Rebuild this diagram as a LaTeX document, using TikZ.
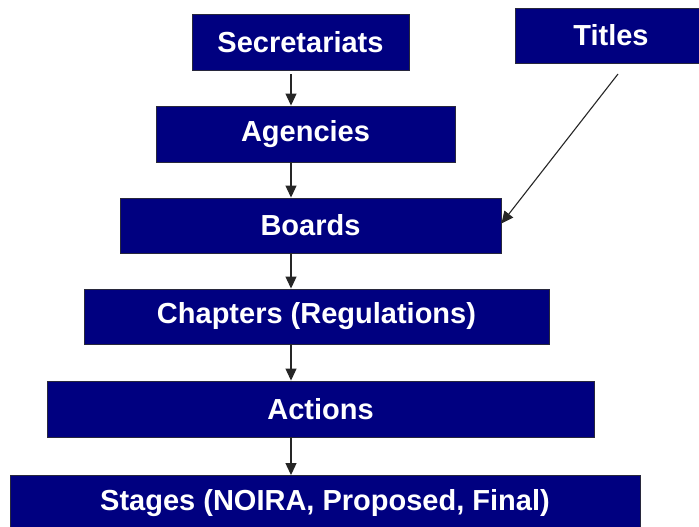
\documentclass[tikz,border=0pt]{standalone}
\usepackage{fontspec}
\setmainfont{Liberation Sans}
\usetikzlibrary{arrows.meta}
\definecolor{boxnavy}{RGB}{0,0,128}
\definecolor{boxedge}{RGB}{40,40,60}
\begin{document}
\begin{tikzpicture}[x=1pt,y=-1pt,
  box/.style={draw=boxedge, line width=0.9pt, fill=boxnavy, text=white,
    font=\fontsize{29}{34}\selectfont\bfseries, inner sep=0pt, anchor=center},
  arr/.style={draw=black!85, line width=1.1pt, -{Triangle[length=12pt,width=11pt]}}]
\clip (0,0) rectangle (699,527);
\fill[white] (0,0) rectangle (699,527);
\node[box, minimum width=217pt, minimum height=56pt] (sec) at (300.5,42) {Secretariats};
\node[box, minimum width=192pt, minimum height=55pt] (tit) at (611,35.5) {Titles};
\node[box, minimum width=299pt, minimum height=56pt] (ag) at (305.5,134) {Agencies};
\node[box, minimum width=381pt, minimum height=55pt] (bo) at (310.5,225.5) {Boards};
\node[box, minimum width=465pt, minimum height=55pt] (ch) at (316.5,316.5) {Chapters (Regulations)};
\node[box, minimum width=547pt, minimum height=56pt] (ac) at (320.5,409) {Actions};
\node[box, minimum width=630pt, minimum height=56pt] (st) at (325,503.5) {Stages (NOIRA, Proposed, Final)};
\coordinate (axis) at (291,0);
\coordinate (tstart) at (618,74);
\draw[arr] ([yshift=-4pt]sec.south -| axis) -- (ag.north -| axis);
\draw[arr] (ag.south -| axis) -- (bo.north -| axis);
\draw[arr] (bo.south -| axis) -- (ch.north -| axis);
\draw[arr] (ch.south -| axis) -- (ac.north -| axis);
\draw[arr] (ac.south -| axis) -- (st.north -| axis);
\draw[arr] (tstart) -- ([yshift=2pt]bo.east);
\end{tikzpicture}
\end{document}
